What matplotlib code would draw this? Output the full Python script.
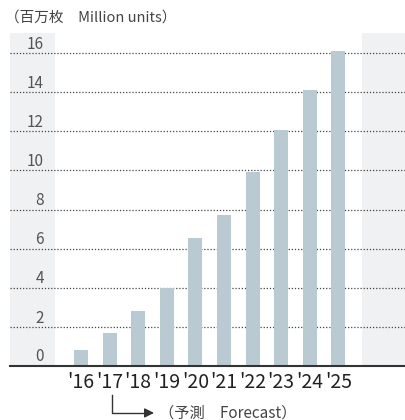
import matplotlib.pyplot as plt
import numpy as np

plt.rcParams['font.family'] = ['Noto Sans CJK JP', 'DejaVu Sans']

# data
years = ["'16", "'17", "'18", "'19", "'20", "'21", "'22", "'23", "'24", "'25"]
units = [0.82, 1.7, 2.8, 4.0, 6.55, 7.7, 9.9, 12.05, 14.1, 16.1]
yticks = [0, 2, 4, 6, 8, 10, 12, 14, 16]

fig = plt.figure(figsize=(4.06, 4.2), dpi=100)
ax = fig.add_axes([10 / 406, 54 / 420, 396 / 406, 333 / 420])

x = np.arange(len(years))
ax.set_xlim(-2.48, 11.36)
ax.set_ylim(0, 17.03)

# grey side bands
ax.axvspan(-2.48, -0.91, color='#f0f1f3', zorder=0, lw=0)
ax.axvspan(9.82, 11.36, color='#f0f1f3', zorder=0, lw=0)

# dotted gridlines
for v in yticks[1:]:
    ax.axhline(v, color='#444444', lw=0.9, ls=(0, (1, 1.5)), zorder=1)
    ax.text(-1.3, v + 0.45, str(v), ha='right', va='center', fontsize=11, color='#555555')
ax.text(-1.3, 0.5, '0', ha='right', va='center', fontsize=11, color='#555555')

ax.bar(x, units, width=0.49, color='#b9cad2', zorder=2)

for s in ['top', 'left', 'right']:
    ax.spines[s].set_visible(False)
ax.spines['bottom'].set_color('#333333')
ax.spines['bottom'].set_linewidth(1.5)
ax.spines['bottom'].set_zorder(3)

ax.set_yticks([])
ax.set_xticks(x)
ax.set_xticklabels(years, fontsize=14, color='#222222')
ax.tick_params(axis='x', length=0, pad=4)

# title
fig.text(5 / 406, 1 - 18 / 420, '（百万枚　Million units）', fontsize=10.5, color='#444444',
         ha='left', va='center')

# forecast arrow
ax.plot([1.08, 1.08, 2.3], [-1.5, -2.4, -2.4], color='#333333', lw=1, clip_on=False)
ax.annotate('', xy=(2.65, -2.4), xytext=(2.2, -2.4),
            arrowprops=dict(arrowstyle='-|>', color='#333333', lw=1, mutation_scale=14),
            annotation_clip=False)
ax.text(2.72, -2.4, '（予測　Forecast）', fontsize=11, color='#444444', ha='left', va='center')

fig.savefig('out.png', dpi=100)
